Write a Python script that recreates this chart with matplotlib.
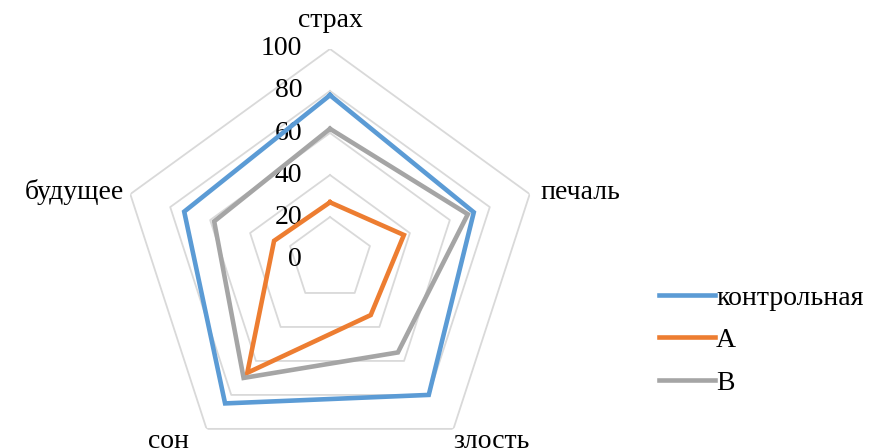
import numpy as np
import matplotlib
matplotlib.use("Agg")
import matplotlib.pyplot as plt
from matplotlib.transforms import ScaledTranslation

plt.rcParams["font.family"] = ["Liberation Serif", "DejaVu Serif"]

CATEGORIES = ["страх", "печаль", "злость", "сон", "будущее"]
SERIES_NAMES = ["контрольная", "А", "В"]
CONTROL = [78, 72, 80, 85, 73]
GROUP_A = [27, 37, 33, 67, 28]
GROUP_B = [62, 69, 55, 70, 58]
TICKS = [0, 20, 40, 60, 80, 100]

COLORS = ["#5B9BD5", "#ED7D31", "#A5A5A5"]
GRID_COLOR = "#D9D9D9"
FS = 20

fig = plt.figure(figsize=(8.73, 4.48), dpi=100)
# center at (330, 259) px, radius 210 px
cx, cy, rad = 330 / 873, 1 - 259 / 448, 210
ax = fig.add_axes([cx - rad / 873, cy - rad / 448, 2 * rad / 873, 2 * rad / 448],
                  projection="polar")
ax.set_theta_offset(np.pi / 2)
ax.set_theta_direction(-1)
ax.set_ylim(0, 100)
ax.grid(False)
ax.spines["polar"].set_visible(False)
ax.set_xticks([])
ax.set_yticks([])
ax.patch.set_visible(False)

n = len(CATEGORIES)
angles = np.linspace(0, 2 * np.pi, n, endpoint=False)
closed = np.append(angles, angles[0])

for t in TICKS[1:]:
    ax.plot(closed, [t] * (n + 1), color=GRID_COLOR, lw=1.3, zorder=1)

off = ScaledTranslation(-28 / 100, 0, fig.dpi_scale_trans)
for t in TICKS:
    ax.text(0, t, str(t), ha="right", va="center", fontsize=FS,
            transform=ax.transData + off)

for vals, name, col in zip([CONTROL, GROUP_A, GROUP_B], SERIES_NAMES, COLORS):
    v = np.append(vals, vals[0])
    ax.plot(closed, v, color=col, lw=3.3, label=name, zorder=3,
            solid_joinstyle="miter")

# offsets from the outer vertex, in pixels (dx, dy up)
label_pos = [
    ((0, 22), "center"),
    ((11, -5), "left"),
    ((0, -19), "left"),
    ((-18, -19), "right"),
    ((-6, -5), "right"),
]
for ang, cat, ((dx, dy), ha) in zip(angles, CATEGORIES, label_pos):
    ax.annotate(cat, xy=(ang, 100), xytext=(dx * 0.72, dy * 0.72),
                textcoords="offset points", ha=ha, va="baseline",
                fontsize=FS, annotation_clip=False)

fig.legend(loc="upper left", bbox_to_anchor=(648 / 873, 1 - 274 / 448),
           frameon=False, fontsize=FS, handlelength=2.0, handletextpad=0.05,
           labelspacing=0.62, borderaxespad=0)

fig.savefig("out.png", dpi=100)
